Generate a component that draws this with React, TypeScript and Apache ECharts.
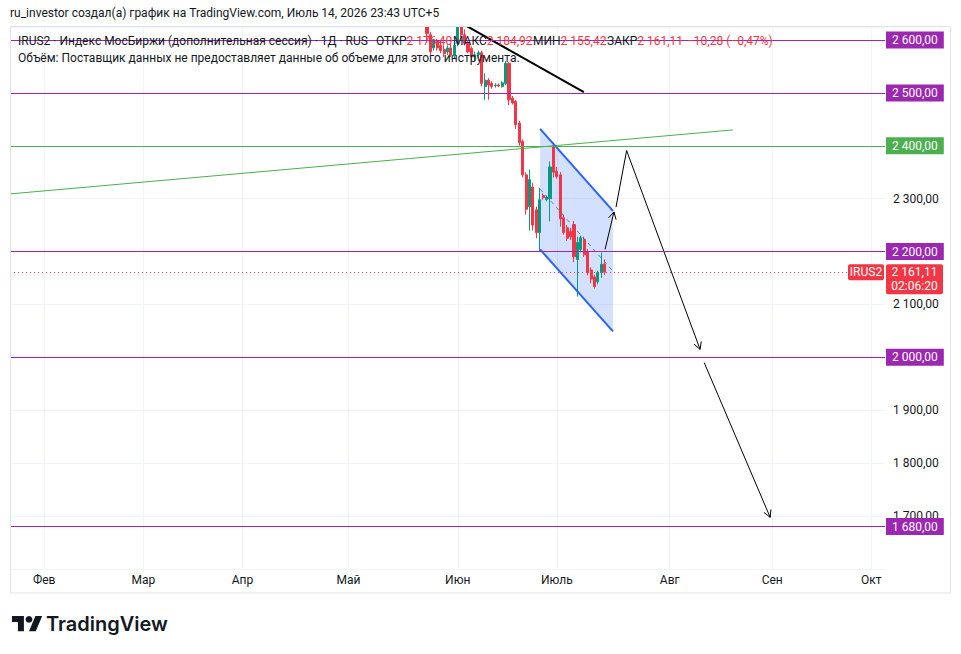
import React, { useEffect, useRef } from "react";
import * as echarts from "echarts";

// ---------- texts ----------
const TITLE_TEXT = "ru_investor создал(а) график на TradingView.com, Июль 14, 2026 23:43 UTC+5";
const LEGEND_NAME = "IRUS2 · Индекс МосБиржи (дополнительная сессия) · 1Д · RUS";
const LEGEND_FIELDS = ["ОТКР", "МАКС", "МИН", "ЗАКР"];
const LEGEND_VALUES = ["2 176,40", "2 184,92", "2 155,42", "2 161,11"];
const LEGEND_CHANGE = "−10,28 (−0,47%)";
const VOLUME_NOTE = "Объём: Поставщик данных не предоставляет данные об объеме для этого инструмента.";
const TICKER = "IRUS2";
const COUNTDOWN = "02:06:20";
const BRAND = "TradingView";

// ---------- time scale (bar index) ----------
const monthLabels = ["Фев", "Мар", "Апр", "Май", "Июн", "Июль", "Авг", "Сен", "Окт"];
const monthBars = [10, 39, 68, 99, 131, 160, 193, 223, 252];

// ---------- daily candles, 23 May .. 14 Jul ----------
const firstBar = 122;
const opens = [2640, 2610, 2585, 2598, 2590, 2582, 2578, 2585, 2570, 2594, 2632, 2610, 2594, 2584, 2568, 2572, 2576, 2512, 2524, 2518, 2514, 2515, 2512, 2518, 2556, 2490, 2484, 2443, 2408, 2345, 2285, 2322, 2279, 2236, 2306, 2298, 2300, 2400, 2352, 2345, 2264, 2245, 2238, 2251, 2185, 2204, 2223, 2200, 2165, 2152, 2143, 2160, 2176.4];
const closes = [2612, 2578, 2598, 2585, 2580, 2574, 2585, 2572, 2590, 2632, 2610, 2594, 2578, 2568, 2572, 2576, 2518, 2524, 2515, 2512, 2515, 2513, 2519, 2556, 2487, 2481, 2440, 2406, 2345, 2280, 2336, 2250, 2236, 2298, 2302, 2303, 2360, 2350, 2342, 2262, 2236, 2225, 2228, 2190, 2217, 2226, 2194, 2160, 2148, 2134, 2160, 2176, 2161.11];
const lows = [2600, 2572, 2580, 2580, 2575, 2568, 2572, 2568, 2565, 2588, 2605, 2590, 2575, 2562, 2562, 2566, 2512, 2487, 2487, 2508, 2510, 2511, 2510, 2515, 2477, 2478, 2432, 2400, 2340, 2270, 2240, 2240, 2225, 2200, 2298, 2295, 2257, 2340, 2338, 2247, 2232, 2220, 2222, 2180, 2115, 2198, 2190, 2155, 2140, 2130, 2138, 2150, 2155.42];
const highs = [2650, 2615, 2600, 2602, 2600, 2590, 2590, 2592, 2595, 2650, 2640, 2620, 2598, 2588, 2578, 2580, 2580, 2537, 2528, 2522, 2518, 2518, 2522, 2560, 2558, 2494, 2486, 2447, 2412, 2350, 2355, 2330, 2285, 2320, 2310, 2306, 2370, 2406, 2360, 2350, 2270, 2250, 2245, 2258, 2228, 2230, 2228, 2205, 2170, 2156, 2164, 2198, 2184.92];
const lastPrice = 2161.11;

// ---------- price scale ----------
const priceTicks = [1700, 1800, 1900, 2100, 2300];
const levelValues = [2600, 2500, 2400, 2200, 2000, 1680];
const levelColors = ["#9c27b0", "#9c27b0", "#4caf50", "#9c27b0", "#9c27b0", "#9c27b0"];

// ---------- drawings (bar index, price) ----------
const channelUpper = [[155.1, 2432], [176.4, 2277]];
const channelLower = [[155.1, 2204], [176.4, 2049]];
const greenTrend = [[0, 2309], [211.5, 2430]];
const blackTrend = [[130, 2639.6], [167.9, 2501.3]];
const arrowUp = [[174.1, 2204], [176.7, 2275]];
const arrowPeakDrop = [[177.3, 2284], [180.4, 2391], [201.9, 2015]];
const arrowFinal = [[203.1, 1990], [222.4, 1697.5]];

const RED = "#f23645";
const GREEN = "#089981";
const TEXT = "#131722";
const FONT = "Roboto, 'Noto Sans', sans-serif";

function fmtPrice(v: number): string {
  const s = v.toFixed(2);
  const [ip, dp] = s.split(".");
  const withSep = ip.replace(/\B(?=(\d{3})+(?!\d))/g, " ");
  return withSep + "," + dp;
}

export default function App() {
  const ref = useRef<HTMLDivElement>(null);

  useEffect(() => {
    const el = ref.current!;
    const chart = echarts.init(el, null, { renderer: "svg" });

    const candleData = opens.map((o, i) => [firstBar + i, o, closes[i], lows[i], highs[i]]);

    const midLine = [
      [channelUpper[0][0], (channelUpper[0][1] + channelLower[0][1]) / 2],
      [channelUpper[1][0], (channelUpper[1][1] + channelLower[1][1]) / 2],
    ];

    const bgDrawings = [
      { kind: "polygon", points: [channelUpper[0], channelUpper[1], channelLower[1], channelLower[0]], fill: "rgba(41,98,255,0.2)" },
    ];
    const fgDrawings: any[] = [
      { points: greenTrend, color: "#4caf50", width: 1 },
      { points: blackTrend, color: "#000000", width: 2 },
      { points: midLine, color: "rgba(41,98,255,0.8)", width: 1, dash: [4, 4] },
      { points: channelUpper, color: "#2962ff", width: 2 },
      { points: channelLower, color: "#2962ff", width: 2 },
      { points: arrowUp, color: "#000000", width: 1, arrow: true },
      { points: arrowPeakDrop, color: "#000000", width: 1, arrow: true },
      { points: arrowFinal, color: "#000000", width: 1, arrow: true },
    ];

    const makeRender = (list: any[]) => (params: any, api: any) => {
      const d = list[api.value(2)];
      const pts = d.points.map((p: number[]) => api.coord(p));
      const cs = params.coordSys;
      const children: any[] = [];
      if (d.kind === "polygon") {
        children.push({ type: "polygon", shape: { points: pts }, style: { fill: d.fill, stroke: null } });
      } else {
        children.push({
          type: "polyline",
          shape: { points: pts },
          style: { stroke: d.color, lineWidth: d.width, fill: null, lineDash: d.dash || null },
        });
        if (d.arrow) {
          const a = pts[pts.length - 2];
          const b = pts[pts.length - 1];
          const ang = Math.atan2(b[1] - a[1], b[0] - a[0]);
          const L = 8;
          const s = 0.5;
          children.push({
            type: "polyline",
            shape: {
              points: [
                [b[0] - L * Math.cos(ang - s), b[1] - L * Math.sin(ang - s)],
                b,
                [b[0] - L * Math.cos(ang + s), b[1] - L * Math.sin(ang + s)],
              ],
            },
            style: { stroke: d.color, lineWidth: d.width, fill: null },
          });
        }
      }
      return {
        type: "group",
        children,
        clipPath: { type: "rect", shape: { x: cs.x, y: cs.y, width: cs.width, height: cs.height } },
      };
    };

    const option: any = {
      animation: false,
      backgroundColor: "#ffffff",
      textStyle: { fontFamily: FONT },
      grid: { left: 10, right: 76, top: 26.78, bottom: 85.11, containLabel: false, outerBoundsMode: "none" },
      xAxis: {
        type: "value",
        min: 0,
        max: 256,
        axisLine: { show: false },
        axisTick: { show: false, customValues: monthBars },
        axisLabel: {
          customValues: monthBars,
          formatter: (v: number) => {
            const i = monthBars.indexOf(v);
            return i >= 0 ? monthLabels[i] : "";
          },
          color: TEXT,
          fontSize: 12,
          fontFamily: FONT,
          margin: 5,
        },
        splitLine: { show: true, lineStyle: { color: "#f0f3fa", width: 1 } },
      },
      yAxis: {
        type: "value",
        position: "right",
        min: 1600,
        max: 2625,
        interval: 100,
        axisLine: { show: false },
        axisTick: { show: false },
        axisLabel: {
          customValues: priceTicks,
          formatter: (v: number) => fmtPrice(v),
          color: TEXT,
          fontSize: 12,
          fontFamily: FONT,
          margin: 8,
          align: "left",
        },
        splitLine: { show: true, lineStyle: { color: "#f0f3fa", width: 1 } },
      },
      series: [
        {
          type: "custom",
          name: "bg",
          z: 1,
          silent: true,
          renderItem: makeRender(bgDrawings),
          data: bgDrawings.map((_, i) => [100, 2000, i]),
          encode: { x: 0, y: 1 },
        },
        {
          type: "candlestick",
          name: "IRUS2",
          z: 2,
          clip: true,
          barWidth: 2.6,
          data: candleData,
          encode: { x: 0, y: [1, 2, 3, 4] },
          itemStyle: { color: GREEN, color0: RED, borderColor: GREEN, borderColor0: RED, borderWidth: 1 },
          markLine: {
            silent: true,
            symbol: ["none", "none"],
            precision: 2,
            data: [
              ...levelValues.map((v, i) => ({
                yAxis: v,
                lineStyle: { color: levelColors[i], width: 1, type: "solid" },
                label: {
                  show: true,
                  position: "end",
                  distance: 1,
                  formatter: fmtPrice(v),
                  color: "#ffffff",
                  backgroundColor: levelColors[i],
                  padding: [3, 6, 2, 6],
                  fontSize: 12,
                  fontFamily: FONT,
                  lineHeight: 12,
                },
              })),
              {
                yAxis: lastPrice,
                lineStyle: { color: RED, width: 1, type: [1, 3] },
                label: { show: false },
              },
            ],
          },
        },
        {
          type: "custom",
          name: "drawings",
          z: 3,
          silent: true,
          renderItem: makeRender(fgDrawings),
          data: fgDrawings.map((_, i) => [100, 2000, i]),
          encode: { x: 0, y: 1 },
        },
      ],
    };

    chart.setOption(option);

    const py = chart.convertToPixel({ gridIndex: 0 }, [0, lastPrice])[1];

    const s = 0.85;
    const lx = 12;
    const ly = 612.6;
    const tp = (pts: number[][]) => pts.map((p) => [lx + p[0] * s, ly + p[1] * s]);

    const txt = (text: string, x: number, y: number, fill: string, size = 12, extra: any = {}) => ({
      type: "text",
      x,
      y,
      silent: true,
      style: {
        text,
        fill,
        font: `${extra.weight || "normal"} ${size}px ${extra.family || FONT}`,
        align: extra.align || "left",
        verticalAlign: "middle",
        textAlign: extra.align || "left",
        textVerticalAlign: "middle",
      },
      z: 100,
    });

    // label + value pair as one rich text, so they sit flush
    const pair = (label: string, value: string, x: number, y: number) => ({
      type: "text",
      x,
      y,
      silent: true,
      z: 100,
      style: {
        text: `{d|${label}}{r|${value}}`,
        font: `normal 12px ${FONT}`,
        align: "left",
        verticalAlign: "middle",
        textAlign: "left",
        textVerticalAlign: "middle",
        rich: {
          d: { fill: TEXT, color: TEXT, fontSize: 12, fontFamily: FONT },
          r: { fill: RED, color: RED, fontSize: 12, fontFamily: FONT },
        },
      },
    });

    const pairX = [376, 453, 533, 607];

    const graphic: any[] = [
      // white mask above the pane (candles overflowing the top edge)
      {
        type: "rect",
        silent: true,
        z: 50,
        shape: { x: 0, y: 0, width: 961, height: 26.5 },
        style: { fill: "#ffffff" },
      },
      {
        type: "rect",
        silent: true,
        z: 60,
        shape: { x: 10.5, y: 26.5, width: 940, height: 566.5 },
        style: { fill: null, stroke: "#e0e3eb", lineWidth: 1 },
      },
      txt(TITLE_TEXT, 10, 13, TEXT, 12),
      txt(LEGEND_NAME, 18, 41, TEXT, 12),
      ...LEGEND_FIELDS.map((f, i) => pair(f, LEGEND_VALUES[i], pairX[i], 41)),
      txt(LEGEND_CHANGE, 687, 41, RED, 12),
      txt(VOLUME_NOTE, 18, 58, TEXT, 12),
      // last price badge
      {
        type: "rect",
        silent: true,
        z: 90,
        shape: { x: 886, y: py - 8, width: 57, height: 30, r: 2 },
        style: { fill: RED },
      },
      txt(fmtPrice(lastPrice), 914.5, py, "#ffffff", 12, { align: "center" }),
      txt(COUNTDOWN, 914.5, py + 14, "#ffffff", 12, { align: "center" }),
      {
        type: "rect",
        silent: true,
        z: 90,
        shape: { x: 848, y: py - 8, width: 36, height: 16, r: 2 },
        style: { fill: RED },
      },
      txt(TICKER, 866, py, "#ffffff", 12, { align: "center" }),
      // logo
      { type: "polygon", silent: true, shape: { points: tp([[0, 4], [14, 4], [14, 22], [7, 22], [7, 11], [0, 11]]) }, style: { fill: TEXT } },
      { type: "polygon", silent: true, shape: { points: tp([[20, 22], [27.5, 4], [35.5, 4], [28, 22]]) }, style: { fill: TEXT } },
      { type: "circle", silent: true, shape: { cx: lx + 20 * s, cy: ly + 8 * s, r: 4 * s }, style: { fill: TEXT } },
      txt(BRAND, 46, 624, TEXT, 20, { weight: "600", family: "Inter, Roboto, sans-serif" }),
    ];

    chart.setOption({ graphic });

    return () => {
      chart.dispose();
    };
  }, []);

  return (
    <div
      ref={ref}
      style={{ position: "fixed", left: 0, top: 0, width: 961, height: 654, background: "#ffffff" }}
    />
  );
}
